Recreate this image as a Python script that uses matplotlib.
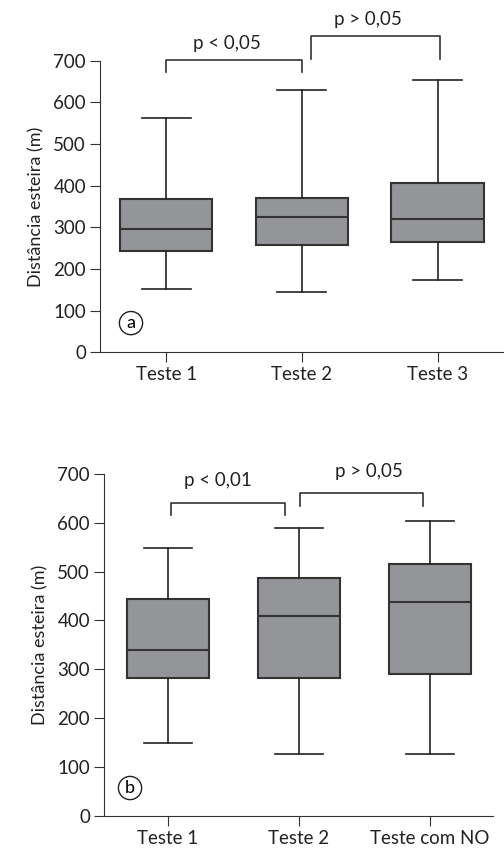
import matplotlib
matplotlib.use('Agg')
import matplotlib.pyplot as plt

plt.rcParams['font.family'] = ['Lato', 'DejaVu Sans']

# (min, q1, median, q3, max)
labels_a = ['Teste 1', 'Teste 2', 'Teste 3']
mins_a = [153, 144, 173]
q1_a = [243, 258, 266]
med_a = [295, 324, 319]
q3_a = [368, 371, 407]
max_a = [563, 630, 654]

labels_b = ['Teste 1', 'Teste 2', 'Teste com NO']
mins_b = [150, 126, 126]
q1_b = [282, 282, 291]
med_b = [340, 410, 437]
q3_b = [444, 487, 515]
max_b = [549, 590, 603]

def draw(ax, labels, mins, q1, med, q3, mx, width, xlim, letter, brackets, texts):
    stats = []
    for i in range(len(labels)):
        stats.append(dict(whislo=mins[i], q1=q1[i], med=med[i], q3=q3[i], whishi=mx[i], fliers=[]))
    ax.bxp(stats, positions=[1, 2, 3], widths=width, patch_artist=True, showfliers=False,
           boxprops=dict(facecolor='#939598', edgecolor='#333333', linewidth=1.5),
           medianprops=dict(color='#333333', linewidth=1.5),
           whiskerprops=dict(color='#222222', linewidth=1.2),
           capprops=dict(color='#222222', linewidth=1.2), capwidths=0.36)
    ax.set_xlim(*xlim)
    ax.set_ylim(0, 700)
    ax.set_yticks(range(0, 701, 100))
    ax.set_xticks([1, 2, 3])
    ax.set_xticklabels(labels)
    ax.spines['top'].set_visible(False)
    ax.spines['right'].set_visible(False)
    ax.spines['left'].set_color('#333333')
    ax.spines['bottom'].set_color('#333333')
    ax.tick_params(labelsize=13.5, length=7, color='#333333', labelcolor='#222222', pad=3)
    ax.set_ylabel('Distância esteira (m)', fontsize=13, color='#222222', labelpad=6)
    for x0, x1, yb, yt in brackets:
        ax.plot([x0, x0, x1, x1], [yb, yt, yt, yb], color='#333333', lw=1.2, clip_on=False)
    for x, y, t in texts:
        ax.text(x, y, t, ha='center', va='center', fontsize=13.5, color='#222222', clip_on=False)
    ax.text(letter[0], letter[1], letter[2], ha='center', va='center', fontsize=13,
            bbox=dict(boxstyle='circle,pad=0.2', fc='white', ec='#222222', lw=1))

fig = plt.figure(figsize=(5.04, 8.57), dpi=100)
ax1 = fig.add_axes([0.198, 0.589, 0.802, 0.340])
draw(ax1, labels_a, mins_a, q1_a, med_a, q3_a, max_a, 0.68, (0.51, 3.49), (0.74, 70, 'a'),
     [(1, 2, 674, 701), (2.07, 3.02, 704, 760)],
     [(1.45, 742, 'p < 0,05'), (2.49, 799, 'p > 0,05')])
ax2 = fig.add_axes([0.206, 0.048, 0.772, 0.399])
draw(ax2, labels_b, mins_b, q1_b, med_b, q3_b, max_b, 0.63, (0.51, 3.48), (0.71, 57, 'b'),
     [(1.02, 1.89, 615, 640), (2.01, 2.95, 635, 660)],
     [(1.38, 686, 'p < 0,01'), (2.53, 705, 'p > 0,05')])
fig.savefig('out.png', dpi=100)
